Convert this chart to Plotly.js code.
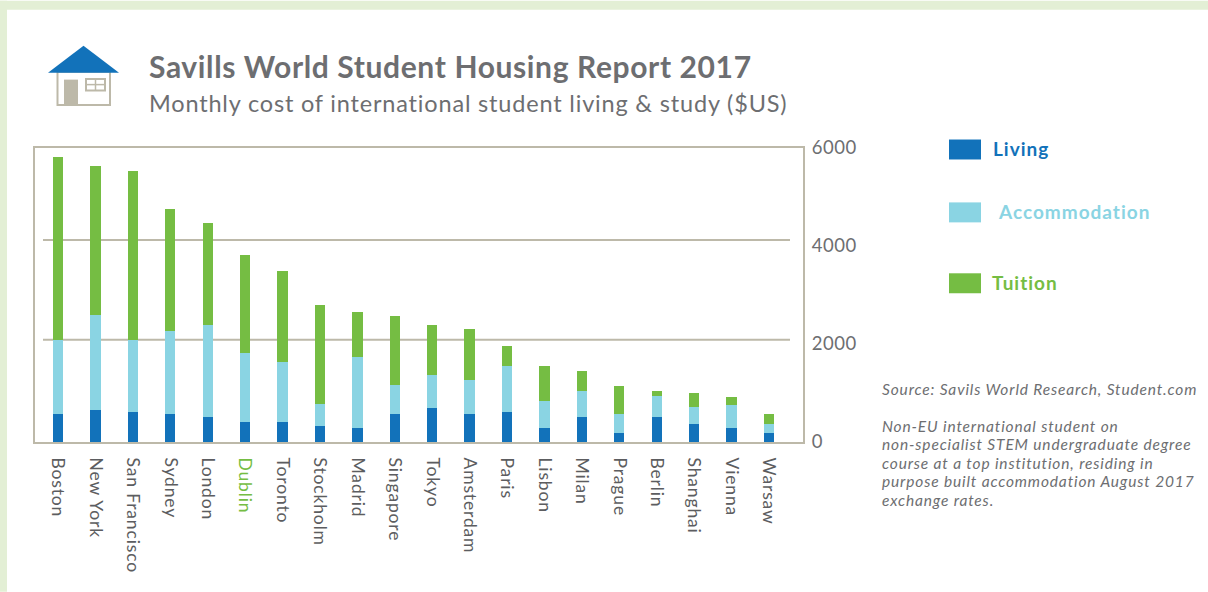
<!DOCTYPE html>
<html>
<head>
<meta charset="utf-8">
<script src="https://cdn.plot.ly/plotly-3.0.0.min.js"></script>
<style>
html,body{margin:0;padding:0;background:#fff;overflow:hidden}#chart{width:1208px;height:592px}
.annotation[data-index="0"] text{letter-spacing:.62px}
.annotation[data-index="1"] text{letter-spacing:.82px}
.annotation[data-index="2"] text,.annotation[data-index="3"] text,.annotation[data-index="4"] text{letter-spacing:1px}
.annotation[data-index="5"] text,.annotation[data-index="6"] text,.annotation[data-index="7"] text,.annotation[data-index="8"] text,.annotation[data-index="9"] text,.annotation[data-index="10"] text{letter-spacing:.85px}
.xtick text{letter-spacing:.85px}
.ytick text{letter-spacing:.5px}
</style>
</head>
<body>
<div id="chart"></div>
<script>
const cities = ["Boston","New York","San Francisco","Sydney","London","Dublin","Toronto","Stockholm","Madrid","Singapore","Tokyo","Amsterdam","Paris","Lisbon","Milan","Prague","Berlin","Shanghai","Vienna","Warsaw"];
const living = [570,658,603,570,509,407,407,319,292,570,685,570,617,292,515,176,515,373,292,176];
const accommodation = [1518,1932,1485,1695,1878,1410,1220,461,1444,596,685,698,929,542,522,400,434,332,461,197];
const tuition = [3729,3044,3444,2495,2074,1993,1858,2007,908,1397,1017,1030,413,712,414,577,82,285,162,203];
const yTicks = [0,2000,4000,6000];
const gridLevels = [2085,4125];
const titleText = "Savills World Student Housing Report 2017";
const subtitleText = "Monthly cost of international student living & study ($US)";
const legendNames = ["Living","Accommodation","Tuition"];
const noteLines = ["Source: Savils World Research, Student.com","Non-EU international student on","non-specialist STEM undergraduate degree","course at a top institution, residing in","purpose built accommodation August 2017","exchange rates."];

const BLUE="#1272ba", AQUA="#8ad4e3", GREEN="#75bd43", GREY="#6d6e71", TICKGREY="#5c5d60", RULE="#bdb9a9", EDGE="#e3efd5";
const FONT="Lato, 'Open Sans', sans-serif";
const L=35,R=803,T=147.5,B=442;
const px=x=>(x-L)/(R-L), py=y=>(B-y)/(B-T);
const rect=(x0,y0,x1,y1,fill,line,lw)=>({type:"rect",xref:"paper",yref:"paper",x0:px(x0),x1:px(x1),y0:py(y0),y1:py(y1),fillcolor:fill,line:{color:line||fill,width:lw||0},layer:"above"});
const text=(x,y,t,size,color)=>({xref:"paper",yref:"paper",x:px(x),y:py(y),xanchor:"left",yanchor:"middle",align:"left",showarrow:false,text:t,font:{family:FONT,size:size,color:color}});
const lineOf=(x0,y0,x1,y1,c,w)=>({type:"line",xref:"paper",yref:"paper",x0:px(x0),x1:px(x1),y0:py(y0),y1:py(y1),line:{color:c,width:w},layer:"above"});

const tickText=cities.map(c=>c==="Dublin"?'<span style="color:'+GREEN+'">'+c+'</span>':c);
const bar=(name,y,color)=>({type:"bar",name:name,x:cities.map((_,i)=>i),y:y,width:0.275,marker:{color:color,line:{width:0}}});

const shapes=[
  rect(0,0,1208,9,EDGE),
  rect(0,0,7,592,EDGE),
  ...gridLevels.map(v=>({type:"line",xref:"paper",yref:"y",x0:px(43),x1:px(790),y0:v,y1:v,line:{color:RULE,width:2},layer:"below"})),
  rect(949,139,981,159,BLUE),
  rect(949,202,981,222,AQUA),
  rect(949,273,981,293,GREEN),
  rect(57.5,71,110,104.5,"#ffffff",RULE,2),
  rect(64,79,78,105,RULE),
  rect(86,78.5,105,90,"#ffffff",RULE,2),
  lineOf(95.5,78.5,95.5,90,RULE,1.5),
  lineOf(86,84,105,84,RULE,1.5),
  {type:"path",xref:"paper",yref:"paper",path:"M "+px(48)+" "+py(72)+" L "+px(83.5)+" "+py(45)+" L "+px(119)+" "+py(72)+" Z",fillcolor:BLUE,line:{width:0},layer:"above"}
];

const annotations=[
  text(147,65,"<b>"+titleText+"</b>",30,GREY),
  text(147,102,subtitleText,23.5,GREY),
  text(991,148.5,"<b>"+legendNames[0]+"</b>",19,BLUE),
  text(996,211,"<b>"+legendNames[1]+"</b>",19,AQUA),
  text(990,282,"<b>"+legendNames[2]+"</b>",19,GREEN),
  ...noteLines.map((t,i)=>text(880,[389,426,444,463,481,500][i],"<i>"+t+"</i>",15.5,GREY))
];

const layout={
  width:1208,height:592,
  margin:{l:L,r:1208-R,t:T,b:592-B,pad:0},
  paper_bgcolor:"#ffffff",plot_bgcolor:"#ffffff",
  barmode:"stack",showlegend:false,
  font:{family:FONT,color:GREY},
  xaxis:{range:[-0.615,19.91],tickmode:"array",tickvals:cities.map((_,i)=>i),ticktext:tickText,tickangle:90,
    tickfont:{family:FONT,size:17.5,color:TICKGREY},ticks:"outside",ticklen:10,tickcolor:"rgba(0,0,0,0)",
    showgrid:false,zeroline:false,showline:true,linecolor:RULE,linewidth:2,mirror:true,automargin:false},
  yaxis:{range:[0,6000],side:"right",tickmode:"array",tickvals:yTicks,ticktext:yTicks.map(String),
    tickfont:{family:FONT,size:18.5,color:GREY},ticks:"outside",ticklen:3,tickcolor:"rgba(0,0,0,0)",
    showgrid:false,zeroline:false,showline:true,linecolor:RULE,linewidth:2,mirror:true,automargin:false},
  shapes:shapes,annotations:annotations
};
Plotly.newPlot("chart",[bar(legendNames[0],living,BLUE),bar(legendNames[1],accommodation,AQUA),bar(legendNames[2],tuition,GREEN)],layout,{displayModeBar:false,staticPlot:true});
</script>
</body>
</html>
